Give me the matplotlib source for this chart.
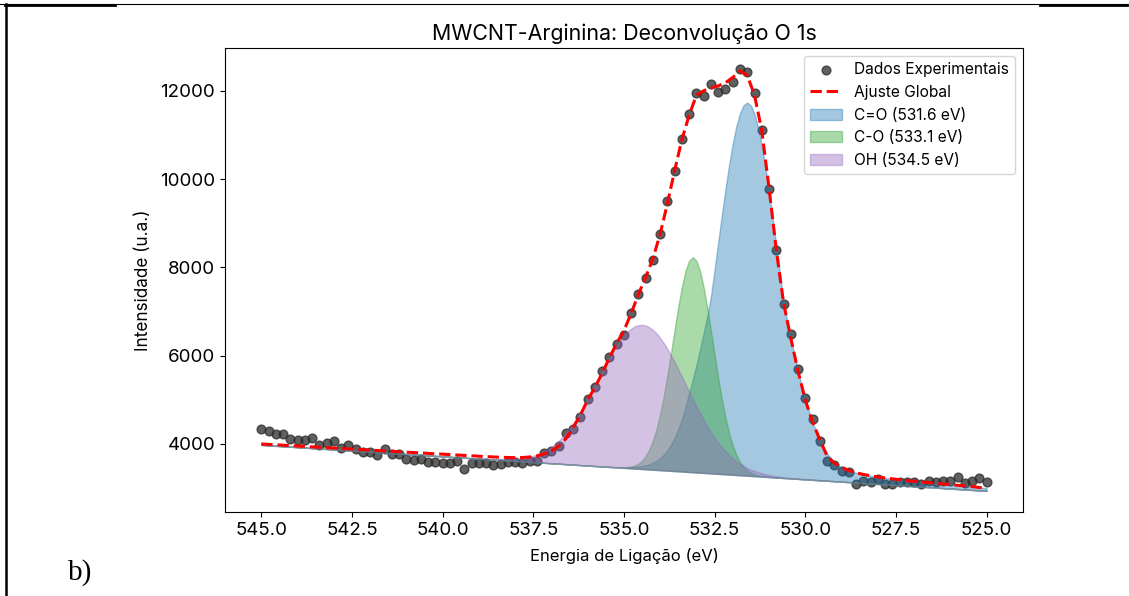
"""MWCNT-Arginina: deconvolution of the O 1s XPS region (panel b)."""

import matplotlib

matplotlib.use("Agg")
import matplotlib.pyplot as plt
import numpy as np
from matplotlib.lines import Line2D
from matplotlib.transforms import Affine2D

plt.rcParams["font.family"] = ["Inter", "DejaVu Sans"]

# measured binding energies, 545.0 -> 525.0 eV in 0.2 eV steps
energia = np.round(np.arange(545.0, 524.9, -0.2), 1)

# experimental points (counts)
dados = [
    4332, 4302, 4227, 4234, 4121, 4098, 4098, 4128, 3977, 4015,   # 545.0-543.2
    4068, 3902, 3970, 3887, 3826, 3826, 3743, 3894, 3774, 3766,   # 543.0-541.2
    3668, 3638, 3668, 3585, 3592, 3562, 3570, 3615, 3434, 3570,   # 541.0-539.2
    3570, 3570, 3524, 3540, 3592, 3592, 3570, 3615, 3615, 3789,   # 539.0-537.2
    3849, 3955, 4257, 4350, 4620, 5010, 5298, 5653, 5978, 6265,   # 537.0-535.2
    6462, 6975, 7398, 7767, 8168, 8757, 9511, 10183, 10908, 11475,  # 535.0-533.2
    11950, 11889, 12158, 11970, 12038, 12190, 12490, 12419, 11950, 11112,  # 533.0-531.2
    9780, 8386, 7164, 6492, 5692, 5035, 4566, 4072, 3618, 3524,   # 531.0-529.2
    3392, 3358, 3094, 3162, 3132, 3207, 3094, 3094, 3132, 3132,   # 529.0-527.2
    3132, 3094, 3162, 3147, 3162, 3162, 3260, 3124, 3162, 3237,   # 527.0-525.2
    3132,                                                          # 525.0
]

# global fit, same energies
ajuste = [
    4000, 3991, 3982, 3972, 3963, 3954, 3945, 3935, 3926, 3917,
    3908, 3898, 3889, 3880, 3871, 3861, 3852, 3843, 3834, 3824,
    3815, 3806, 3797, 3787, 3778, 3769, 3760, 3750, 3741, 3732,
    3723, 3714, 3706, 3699, 3694, 3690, 3693, 3705, 3730, 3775,
    3845, 3950, 4120, 4370, 4660, 4997, 5284, 5601, 5955, 6280,
    6566, 6960, 7390, 7780, 8200, 8760, 9450, 10200, 10900, 11450,
    11900, 12000, 12060, 12110, 12180, 12300, 12450, 12350, 11900, 11100,
    9800, 8400, 7200, 6400, 5650, 5000, 4500, 4100, 3730, 3570,
    3470, 3400, 3350, 3310, 3280, 3255, 3230, 3210, 3190, 3170,
    3155, 3140, 3125, 3110, 3095, 3080, 3065, 3050, 3035, 3015,
    3000,
]

# linear background, value at 545 eV and at 525 eV
fundo_545, fundo_525 = 3980, 2938

# component curves, heights above background, 545.0 -> 525.0 eV in 0.1 eV steps
energia_fina = np.round(np.arange(545.0, 524.95, -0.1), 1)

co_dupla = [0] * 92 + [
    1, 1, 2, 3, 4, 6, 8, 11, 15, 21,
    28, 38, 51, 68, 90, 120, 160, 210, 275, 360,
    465, 600, 760, 960, 1200, 1480, 1801, 2110, 2441, 2800,
    3180, 3560, 4017, 4627, 5250, 5869, 6465, 7017, 7502, 7903,
    8202, 8387,
    8450,                                                   # 531.6 eV
    8387, 8202, 7903, 7502, 7017, 6465, 5869, 5250, 4627, 4017,
    3560, 3180, 2800, 2441, 2110, 1801, 1540, 1312, 1100, 922,
    760, 625, 515, 430, 370, 324, 292, 264, 242, 224,
    208, 195, 184, 175, 167, 160, 153, 146, 141, 137,
    132, 127, 122, 118, 115, 113, 110, 108, 106, 104,
    101, 99, 97, 95, 92, 90, 87, 85, 83, 81,
    78, 76, 72, 67, 64, 62,
]
co_simples = [0] * 96 + [
    1, 2, 3, 7, 12, 23, 41, 71, 118, 191,
    298, 451, 659, 933, 1276, 1691, 2167, 2686, 3222, 3738,
    4197, 4558, 4790,
    4870,                                                   # 533.1 eV
    4790, 4558, 4197, 3738, 3222, 2686, 2167, 1691, 1276, 933,
    659, 451, 298, 191, 118, 71, 41, 23, 12, 7,
    3, 2, 1,
] + [0] * 58
oh = [0] * 57 + [
    1, 1, 2, 3, 4, 5, 7, 10, 13, 17,
    22, 28, 36, 46, 59, 74, 93, 116, 143, 176,
    215, 260, 312, 373, 442, 520, 608, 706, 814, 932,
    1060, 1197, 1342, 1495, 1655, 1816, 1980, 2144, 2307, 2465,
    2614, 2754, 2881, 2994, 3089, 3165, 3220, 3254,
    3265,                                                   # 534.5 eV
    3254, 3220, 3165, 3089, 2994, 2881, 2754, 2614, 2465, 2307,
    2144, 1980, 1816, 1655, 1495, 1342, 1197, 1060, 932, 814,
    706, 608, 520, 442, 373, 312, 260, 215, 176, 143,
    116, 93, 74, 59, 46, 36, 28, 22, 17, 13,
    10, 7, 5, 4, 3, 2, 1, 1,
] + [0] * 47

componentes = [
    ("C=O (531.6 eV)", co_dupla, "tab:blue"),
    ("C-O (533.1 eV)", co_simples, "tab:green"),
    ("OH (534.5 eV)", oh, "tab:purple"),
]

fig = plt.figure(figsize=(11.29, 5.96), dpi=100)
ax = fig.add_axes([0.1993, 0.141, 0.7067, 0.7785])

ax.scatter(energia, dados, s=40, color="#2b2b2b", alpha=0.75, label="Dados Experimentais")
ax.update_datalim([(545.0, fundo_545), (525.0, fundo_525)])
ax.autoscale_view()
ax.set_autoscale_on(False)

# components are drawn as heights, sheared onto the sloping background
inclinacao = (fundo_525 - fundo_545) / (525.0 - 545.0)
sobre_fundo = Affine2D.from_values(1, inclinacao, 0, 1, 0,
                                   fundo_545 - 545.0 * inclinacao) + ax.transData
for nome, pico, cor in componentes:
    ax.fill_between(energia_fina, 0, pico, color=cor, alpha=0.4, label=nome,
                    transform=sobre_fundo)
ax.plot(energia, ajuste, "r--", lw=2.2, label="Ajuste Global")

ax.invert_xaxis()
ax.set_title("MWCNT-Arginina: Deconvolução O 1s", fontsize=15.4)
ax.set_xlabel("Energia de Ligação (eV)", fontsize=12, labelpad=7)
ax.set_ylabel("Intensidade (u.a.)", fontsize=12.3, labelpad=6)
ax.tick_params(labelsize=13.5)

h, l = ax.get_legend_handles_labels()
ordem = [l.index(n) for n in ["Dados Experimentais", "Ajuste Global",
                               "C=O (531.6 eV)", "C-O (533.1 eV)", "OH (534.5 eV)"]]
ax.legend([h[i] for i in ordem], [l[i] for i in ordem], loc="upper right", fontsize=11.2)

# borders of the document table cell and the panel letter
fig.add_artist(Line2D([0, 1], [0.993, 0.993], color="black", lw=0.8))
fig.add_artist(Line2D([0.004, 0.102], [0.992, 0.992], color="black", lw=2))
fig.add_artist(Line2D([0.921, 1], [0.992, 0.992], color="black", lw=2))
fig.add_artist(Line2D([0.005, 0.005], [0, 0.993], color="black", lw=1.8))
fig.text(0.06, 0.028, "b)", family=["Liberation Serif", "DejaVu Serif"], fontsize=21)

fig.savefig("out.png", dpi=100)
